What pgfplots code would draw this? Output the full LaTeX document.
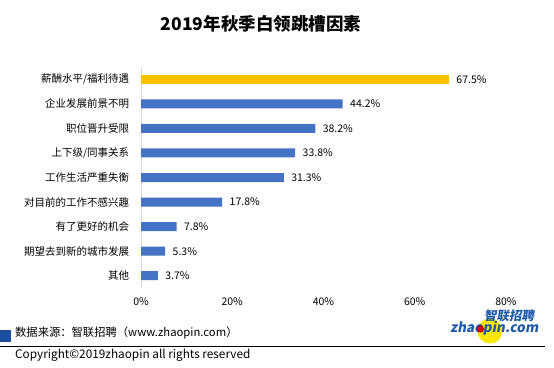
\documentclass[border=0pt]{standalone}
\usepackage{fontspec}
\setmainfont{Noto Sans CJK SC}
\usepackage{pgfplots}
\pgfplotsset{compat=1.18}
\definecolor{barblue}{HTML}{4472C4}
\definecolor{baryellow}{HTML}{FFC000}
\definecolor{logoblue}{HTML}{1F5AA8}
\definecolor{sqblue}{HTML}{1F4E9E}
\begin{document}
\begin{tikzpicture}[x=1pt,y=1pt]
\path[use as bounding box] (0,0) rectangle (554,367);
\begin{axis}[
  at={(141pt,79pt)}, anchor=south west,
  scale only axis, width=365pt, height=221pt,
  xmin=0, xmax=80, ymin=-0.5, ymax=8.5, y dir=reverse,
  axis x line*=bottom, axis y line*=left,
  x axis line style={draw=none},
  y axis line style={draw=black!15, -},
  tick style={draw=none},
  xtick={0,20,40,60,80},
  xticklabel={\pgfmathprintnumber{\tick}\%},
  xticklabel style={yshift=-6.5pt, font=\fontsize{10.5}{12}\selectfont},
  /pgf/number format/assume math mode=true,
  ytick={0,...,8},
  yticklabels={薪酬水平/福利待遇,企业发展前景不明,职位晋升受限,上下级/同事关系,工作生活严重失衡,对目前的工作不感兴趣,有了更好的机会,期望去到新的城市发展,其他},
  yticklabel style={xshift=-4pt, font=\fontsize{10.5}{12}\selectfont},
  xbar, bar width=9pt,
  nodes near coords={\pgfmathprintnumber[fixed,precision=1,fixed zerofill]{\pgfplotspointmeta}\%},
  nodes near coords style={font=\fontsize{10.5}{12}\selectfont, black, anchor=west, xshift=4pt},
  point meta=x,
]
\addplot[fill=baryellow, draw=none, bar shift=0pt] coordinates {(67.5,0)};
\addplot[fill=barblue, draw=none, bar shift=0pt] coordinates {
(44.2,1) (38.2,2) (33.8,3) (31.3,4) (17.8,5) (7.8,6) (5.3,7) (3.7,8)};
\end{axis}
\node[font=\bfseries\fontsize{17.5}{20}\selectfont] at (261,343) {2019年秋季白领跳槽因素};
\fill[sqblue] (0,25) rectangle (11,37);
\node[anchor=west, inner sep=0pt, font=\fontsize{11.3}{13}\selectfont] at (15,34) {数据来源：智联招聘（www.zhaopin.com）};
\draw[black, line width=0.7pt] (0,21) -- (545,21);
\node[anchor=west, inner sep=0pt, font=\fontsize{11.8}{13}\selectfont] at (15,12) {Copyright©2019zhaopin all rights reserved};
\fill[yellow!90!orange] (490,36) circle (12.5);
\begin{scope}[shift={(510,51.5)}, xslant=0.18]
\node[font=\bfseries\fontsize{12.5}{14}\selectfont, text=logoblue, inner sep=0pt, transform shape] at (0,0) {智联招聘};
\end{scope}
\begin{scope}[shift={(495,39)}, xslant=0.18]
\node[font=\bfseries\fontsize{13.5}{15}\selectfont, text=logoblue, inner sep=0pt, transform shape] at (0,0) {zhaopin.com};
\end{scope}
\fill[red!80!black] (480.5,38) circle (3.6);
\end{tikzpicture}
\end{document}
